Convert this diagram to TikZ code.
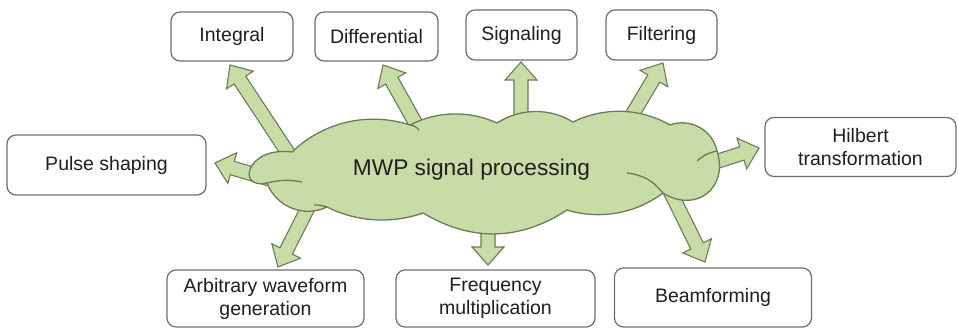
\documentclass[tikz,border=0pt]{standalone}
\usepackage{fontspec}
\setmainfont{Liberation Sans}
\usetikzlibrary{calc}

\definecolor{cloudfill}{HTML}{C9DBA6}
\definecolor{cloudline}{HTML}{6B7C58}
\definecolor{boxline}{HTML}{6E6E6E}
\definecolor{txt}{HTML}{1F1F1F}

\tikzset{
  task/.style={draw=boxline, line width=1.2pt, rounded corners=9pt, fill=white,
    text=txt, font=\fontsize{19.5}{23}\selectfont, align=center, inner sep=0pt},
  fatarrow/.style={draw=cloudline, fill=cloudfill, line width=1.1pt, line join=miter},
  cloudedge/.style={draw=cloudline, line width=1.3pt, line join=round},
}

% block arrow from a tail coordinate to a tip coordinate
\newcommand\flowarrow[2]{%
  \coordinate (hb) at ($(#2)!18pt!(#1)$);
  \draw[fatarrow] ($(#1)!7pt!90:(#2)$) -- ($(hb)!7pt!90:(#2)$) -- ($(hb)!16pt!90:(#2)$)
    -- (#2) -- ($(hb)!16pt!-90:(#2)$) -- ($(hb)!7pt!-90:(#2)$) -- ($(#1)!7pt!-90:(#2)$) -- cycle;
}

\begin{document}
\begin{tikzpicture}[x=1pt, y=1pt]
\useasboundingbox (0,0) rectangle (958,-329);

% outer task boxes
\node[task, minimum width=122pt, minimum height=49pt] (integral) at (232,-36.5) {Integral};
\node[task, minimum width=123pt, minimum height=49pt] (differential) at (376.5,-36.5) {Differential};
\node[task, minimum width=111pt, minimum height=50pt] (signaling) at (521.5,-35) {Signaling};
\node[task, minimum width=111pt, minimum height=50pt] (filtering) at (661.5,-35) {Filtering};
\node[task, minimum width=191pt, minimum height=59pt] (hilbert) at (860.5,-147) {Hilbert\\transformation};
\node[task, minimum width=199pt, minimum height=60pt] (pulse) at (106.5,-165) {Pulse shaping};
\node[task, minimum width=197pt, minimum height=57pt] (arbitrary) at (265.5,-298.5) {Arbitrary waveform\\generation};
\node[task, minimum width=199pt, minimum height=57pt] (frequency) at (495.5,-298.5) {Frequency\\multiplication};
\node[task, minimum width=197pt, minimum height=59pt] (beam) at (713,-297.5) {Beamforming};

% arrow ends: tails sit under the cloud, tips stop short of the boxes
\coordinate (tInt) at (296,-165);   \coordinate (pInt) at (230,-65);
\coordinate (tDif) at (425,-140);   \coordinate (pDif) at (383,-65);
\coordinate (tSig) at (521,-130);   \coordinate (pSig) at (521,-62);
\coordinate (tFil) at (622,-132);   \coordinate (pFil) at (663,-63);
\coordinate (tHil) at (690,-170);   \coordinate (pHil) at (759,-148);
\coordinate (tPul) at (290,-185);   \coordinate (pPul) at (215,-163);
\coordinate (tArb) at (314,-196);   \coordinate (pArb) at (278,-267);
\coordinate (tFre) at (488,-215);   \coordinate (pFre) at (488,-265);
\coordinate (tBea) at (665,-181);   \coordinate (pBea) at (705,-262);

\flowarrow{tInt}{pInt}
\flowarrow{tDif}{pDif}
\flowarrow{tSig}{pSig}
\flowarrow{tFil}{pFil}
\flowarrow{tHil}{pHil}
\flowarrow{tPul}{pPul}
\flowarrow{tArb}{pArb}
\flowarrow{tFre}{pFre}
\flowarrow{tBea}{pBea}

% cloud: lobes between cusp points, traversed clockwise
\coordinate (c1) at (292,-152);
\coordinate (c2) at (410,-125);
\coordinate (c3) at (497,-123);
\coordinate (c4) at (573,-122);
\coordinate (c5) at (670,-125);
\coordinate (c6) at (717,-151);
\coordinate (c7) at (663,-193);
\coordinate (c8) at (567,-210);
\coordinate (c9) at (423,-213);
\coordinate (c10) at (327,-207);
\coordinate (c11) at (267,-183);

\draw[cloudedge, fill=cloudfill]
  (c1) to[bend left=31, looseness=.92] (c2)
       to[bend left=26, looseness=.9]  (c3)
       to[bend left=32, looseness=.93] (c4)
       to[bend left=28, looseness=.91] (c5)
       to[bend left=49, looseness=1.03] (c6)
       to[bend left=70, looseness=1.45] (c7)
       to[bend left=27, looseness=.9]  (c8)
       to[bend left=32, looseness=1.0] (c9)
       to[bend left=23, looseness=.89] (c10)
       to[bend left=47, looseness=1.02] (c11)
       .. controls (236,-190) and (246,-146) .. (c1) -- cycle;

% inner lobe strokes
\draw[cloudedge] (c11) to[bend left=12] (302,-182);
\draw[cloudedge] (c7) to[bend right=22] (627,-173);
\draw[cloudedge] (c6) to[bend right=15] (697,-161);
\draw[cloudedge] (c2) to[bend left=20] (419,-130);
\draw[cloudedge] (c10) to[bend right=10] (314,-205);

\node[font=\fontsize{22.7}{27}\selectfont, text=txt, anchor=base] (mwp) at (471.5,-175) {MWP signal processing};
\end{tikzpicture}
\end{document}
